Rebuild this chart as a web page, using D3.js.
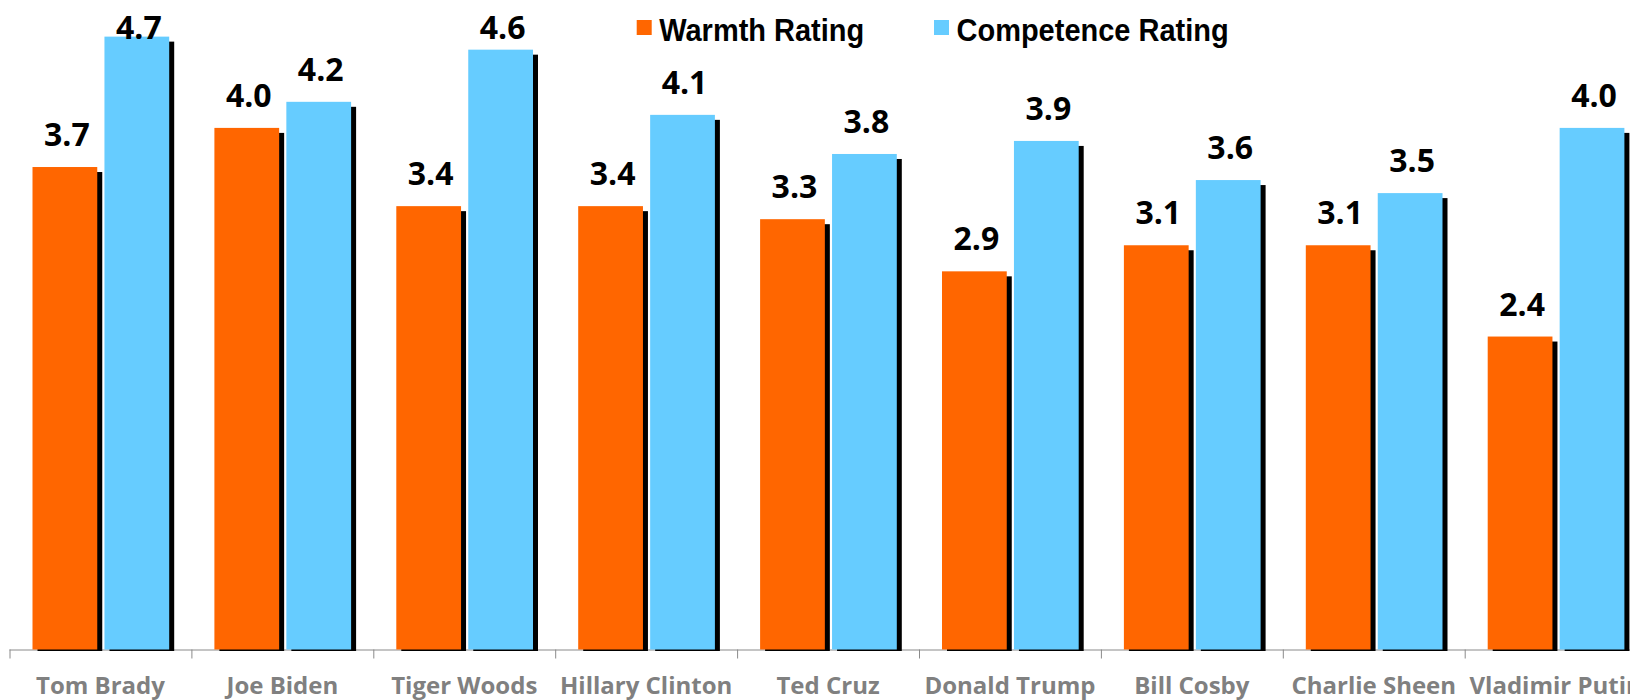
<!DOCTYPE html>
<html>
<head>
<meta charset="utf-8">
<script src="https://cdn.jsdelivr.net/npm/d3@7"></script>
<style>
  body { margin: 0; background: #fff; }
  svg { display: block; }
</style>
</head>
<body>
<svg width="1630" height="700"></svg>
<script>
// data
var people = ["Tom Brady", "Joe Biden", "Tiger Woods", "Hillary Clinton", "Ted Cruz",
              "Donald Trump", "Bill Cosby", "Charlie Sheen", "Vladimir Putin"];
var series = ["Warmth Rating", "Competence Rating"];
var warmth = [3.7, 4.0, 3.4, 3.4, 3.3, 2.9, 3.1, 3.1, 2.4];
var competence = [4.7, 4.2, 4.6, 4.1, 3.8, 3.9, 3.6, 3.5, 4.0];
var colors = ["#ff6600", "#66ccff"];

var svg = d3.select("svg"),
    base = 649.5,
    fmt = d3.format(".1f");

var rows = people.map(function(p, i) {
  return {name: p, values: [warmth[i], competence[i]]};
});

var x = d3.scaleBand()
    .domain(people)
    .range([9.5, 9.5 + 9 * 181.9])
    .padding(0);

var sub = d3.scaleBand()
    .domain(series)
    .range([23, 159.7])
    .paddingInner(0.1);

var y = d3.scaleLinear()
    .domain([0, 5])
    .range([base, base - 652]);

// axis line + boundary ticks
var edges = d3.scaleLinear().domain([0, people.length]).range(x.range());
var axis = svg.append("g")
    .attr("transform", "translate(0," + base + ")")
    .call(d3.axisBottom(edges).ticks(people.length).tickFormat("").tickSize(9).tickSizeOuter(0));
axis.select(".domain").attr("stroke", "#8a8a8a").attr("d", "M" + x.range()[0] + ",0.5H1640");
axis.selectAll(".tick line").attr("stroke", "#8a8a8a");

// category labels
svg.append("g").selectAll("text")
    .data(people)
    .enter().append("text")
    .attr("x", function(d) { return x(d) + x.bandwidth() / 2; })
    .attr("y", 694)
    .attr("text-anchor", "middle")
    .style("font", "bold 24px 'Open Sans'")
    .style("fill", "#808080")
    .text(function(d) { return d; });

var grp = svg.selectAll(".grp")
    .data(rows)
    .enter().append("g")
    .attr("class", "grp")
    .attr("transform", function(d) { return "translate(" + x(d.name) + ",0)"; });

var cells = function(d) {
  return d.values.map(function(v, j) { return {key: series[j], v: v, j: j}; });
};

// shadows
grp.selectAll(".shadow")
    .data(cells)
    .enter().append("rect")
    .attr("class", "shadow")
    .attr("x", function(d) { return sub(d.key) + 5; })
    .attr("y", function(d) { return y(d.v) + 5; })
    .attr("width", sub.bandwidth())
    .attr("height", function(d) { return base + 1.5 - y(d.v) - 5; })
    .attr("fill", "#000");

// bars
grp.selectAll(".bar")
    .data(cells)
    .enter().append("rect")
    .attr("class", "bar")
    .attr("x", function(d) { return sub(d.key); })
    .attr("y", function(d) { return y(d.v); })
    .attr("width", sub.bandwidth())
    .attr("height", function(d) { return base - y(d.v); })
    .attr("fill", function(d) { return colors[d.j]; });

// value labels
grp.selectAll(".lbl")
    .data(cells)
    .enter().append("text")
    .attr("class", "lbl")
    .attr("x", function(d) { return sub(d.key) + sub.bandwidth() / 2 + 2; })
    .attr("y", function(d) { return Math.max(y(d.v) - 21, 39); })
    .attr("text-anchor", "middle")
    .style("font", "bold 32px 'Open Sans'")
    .style("fill", "#000")
    .text(function(d) { return fmt(d.v); });

// legend
var legX = [636.7, 934];
var leg = svg.selectAll(".leg")
    .data(series)
    .enter().append("g")
    .attr("class", "leg")
    .attr("transform", function(d, i) { return "translate(" + legX[i] + ",20)"; });
leg.append("rect")
    .attr("width", 15)
    .attr("height", 15)
    .attr("fill", function(d, i) { return colors[i]; });
leg.append("text")
    .attr("transform", "translate(22.5,20.5) scale(1,1.07)")
    .style("font", "bold 29px 'Liberation Sans', Arial, sans-serif")
    .style("fill", "#000")
    .text(function(d) { return d; });
</script>
</body>
</html>
